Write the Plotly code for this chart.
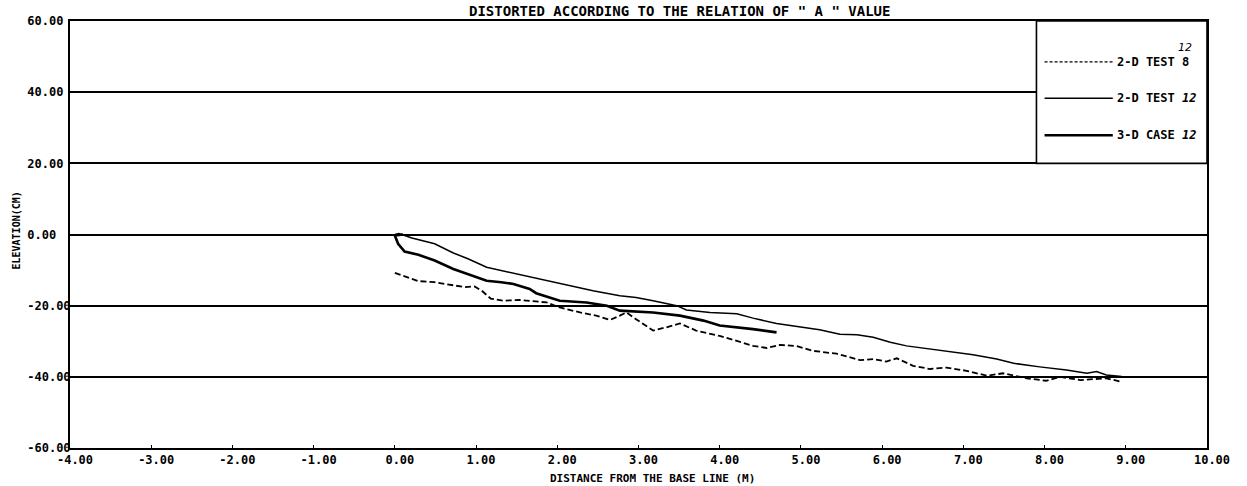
import plotly.graph_objects as go

# ---- data ----
test8_x = [0.0, 0.12, 0.29, 0.49, 0.70, 0.86, 0.98, 1.07, 1.18, 1.33, 1.54, 1.87, 2.03, 2.28, 2.48,
           2.65, 2.77, 2.85, 2.97, 3.18, 3.34, 3.51, 3.71, 4.00, 4.21, 4.41, 4.58, 4.74, 4.95, 5.15,
           5.44, 5.73, 5.89, 6.05, 6.18, 6.38, 6.59, 6.79, 7.04, 7.29, 7.49, 7.78, 8.02, 8.19, 8.44,
           8.76, 8.95]
test8_y = [-10.8, -11.7, -13.1, -13.4, -14.2, -14.8, -14.6, -15.8, -18.0, -18.6, -18.4, -19.1, -20.5,
           -21.9, -22.8, -24.0, -22.8, -21.9, -23.8, -27.0, -26.1, -25.0, -27.0, -28.5, -29.9, -31.3,
           -31.9, -31.0, -31.4, -32.7, -33.5, -35.3, -35.0, -35.7, -34.8, -36.9, -37.8, -37.4, -38.3,
           -39.7, -39.0, -40.4, -41.1, -40.0, -40.9, -40.4, -41.4]

test12_x = [0.0, 0.05, 0.21, 0.49, 0.72, 0.90, 1.13, 1.31, 1.54, 1.72, 1.95, 2.16, 2.44, 2.77, 2.97,
            3.18, 3.47, 3.59, 3.88, 4.21, 4.41, 4.70, 5.03, 5.23, 5.48, 5.69, 5.89, 6.10, 6.30, 6.59,
            6.84, 7.12, 7.41, 7.62, 7.94, 8.27, 8.52, 8.64, 8.76, 8.95]
test12_y = [0.0, 0.3, -1.0, -2.6, -5.2, -6.8, -9.2, -10.1, -11.1, -12.0, -13.2, -14.4, -15.8, -17.2,
            -17.7, -18.6, -20.0, -21.2, -21.9, -22.3, -23.5, -25.0, -26.1, -26.8, -28.0, -28.2, -28.9,
            -30.3, -31.3, -32.2, -32.9, -33.8, -35.0, -36.2, -37.2, -38.1, -39.0, -38.5, -39.5, -39.9]

case3d_x = [0.10, 0.00, 0.04, 0.12, 0.29, 0.49, 0.72, 0.90, 1.13, 1.31, 1.46, 1.66, 1.74, 2.03, 2.36,
            2.61, 2.77, 3.18, 3.51, 3.80, 4.00, 4.41, 4.70]
case3d_y = [0.0, -0.3, -2.6, -4.8, -5.7, -7.3, -9.7, -11.1, -13.0, -13.4, -13.9, -15.3, -16.5, -18.6,
            -19.1, -20.0, -21.4, -21.9, -22.8, -24.2, -25.6, -26.6, -27.5]

x_ticks = list(range(-4, 11))
y_ticks = [-60, -40, -20, 0, 20, 40, 60]

title_text = 'DISTORTED ACCORDING TO THE RELATION OF " A " VALUE'
x_title = "DISTANCE FROM THE BASE LINE (M)"
y_title = "ELEVATION(CM)"
legend_names = ["2-D TEST 8", "2-D TEST <i>12</i>", "3-D CASE <i>12</i>"]

FONT = "DejaVu Sans Mono"

fig = go.Figure()
fig.add_trace(go.Scatter(x=test8_x, y=test8_y, mode="lines", name="2-D TEST 8",
                         line=dict(color="black", width=1.8, dash="6px,3px")))
fig.add_trace(go.Scatter(x=test12_x, y=test12_y, mode="lines", name="2-D TEST 12",
                         line=dict(color="black", width=1.5)))
fig.add_trace(go.Scatter(x=case3d_x, y=case3d_y, mode="lines", name="3-D CASE 12",
                         line=dict(color="black", width=2.6)))

def ylab(v):
    s = f"{v:.2f}"
    return s + "\u00a0" * (6 - len(s))

fig.update_layout(
    width=1247, height=486,
    margin=dict(l=70, r=40, t=21, b=38),
    paper_bgcolor="white", plot_bgcolor="white",
    showlegend=False,
    font=dict(family=FONT, color="black", size=12),
)
fig.update_xaxes(range=[-4, 10], tickvals=x_ticks, ticktext=[f"<b>{v:.2f}</b>" for v in x_ticks],
                 showline=True, linecolor="black", linewidth=2, mirror=True,
                 showgrid=False, zeroline=False, ticks="inside", ticklen=3, tickcolor="black",
                 tickfont=dict(family=FONT, size=12), ticklabelshift=5)
fig.update_yaxes(range=[-60, 60], tickvals=y_ticks, ticktext=[f"<b>{ylab(v)}</b>" for v in y_ticks],
                 showline=True, linecolor="black", linewidth=2, mirror=True,
                 showgrid=True, gridcolor="black", gridwidth=1.6, zeroline=False, ticks="",
                 tickfont=dict(family=FONT, size=12), ticklabelstandoff=-5)

# legend box and keys
fig.add_shape(type="rect", x0=7.9, x1=10, y0=20, y1=60, xref="x", yref="y",
              fillcolor="white", line=dict(color="black", width=1.6), layer="above")
key_y = [48.5, 38.3, 27.9]
key_dash = ["3px,2px", "solid", "solid"]
key_w = [1.4, 1.5, 2.6]
for ky, kd, kw, name in zip(key_y, key_dash, key_w, legend_names):
    fig.add_shape(type="line", x0=8.0, x1=8.84, y0=ky, y1=ky, xref="x", yref="y",
                  line=dict(color="black", width=kw, dash=kd), layer="above")
    fig.add_annotation(x=8.87, y=ky, xref="x", yref="y", text=f"<b>{name}</b>", showarrow=False,
                       xanchor="left", yanchor="middle", font=dict(family=FONT, size=12))
fig.add_annotation(x=9.73, y=52.5, xref="x", yref="y", text="<i>12</i>", showarrow=False,
                   xanchor="center", yanchor="middle", font=dict(family="DejaVu Sans", size=11))

fig.add_annotation(x=3.5, y=1, xref="x", yref="paper", text=f"<b>{title_text}</b>", showarrow=False,
                   xanchor="center", yanchor="bottom", yshift=0, font=dict(family=FONT, size=14))
fig.add_annotation(x=3.17, y=0, xref="x", yref="paper", text=f"<b>{x_title}</b>", showarrow=False,
                   xanchor="center", yanchor="top", yshift=-22, font=dict(family=FONT, size=11))
fig.add_annotation(x=-0.047, y=1, xref="paper", yref="y", text=f"<b>{y_title}</b>", showarrow=False,
                   textangle=-90, xanchor="center", yanchor="middle", font=dict(family=FONT, size=10))

fig.write_html("out.html")
